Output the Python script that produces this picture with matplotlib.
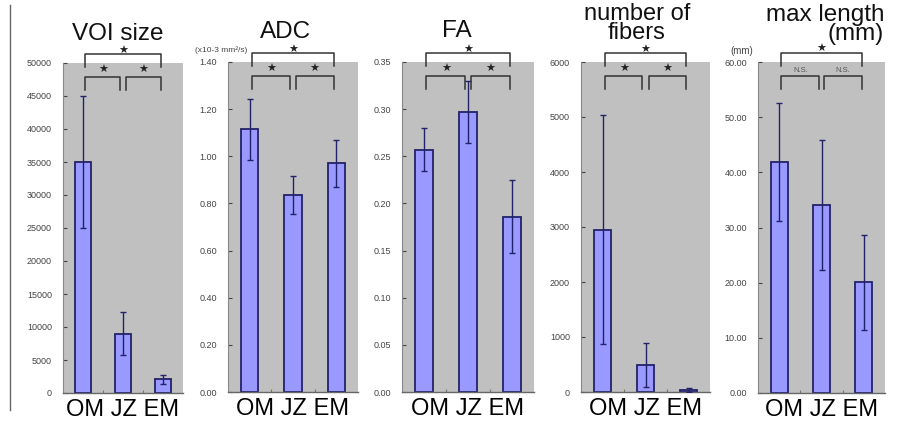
import matplotlib
matplotlib.use("Agg")
import matplotlib.pyplot as plt
from matplotlib.lines import Line2D
from matplotlib.ticker import MultipleLocator, FormatStrFormatter

plt.rcParams['font.family'] = ['Liberation Sans', 'DejaVu Sans']

categories = ["OM", "JZ", "EM"]

voi_mean = [35000, 9000, 2050]
voi_err = [10000, 3300, 700]
adc_mean = [1.115, 0.835, 0.970]
adc_err = [0.130, 0.080, 0.100]
fa_mean = [0.257, 0.297, 0.186]
fa_err = [0.023, 0.033, 0.039]
fib_mean = [2950, 490, 35]
fib_err = [2080, 400, 30]
len_mean = [41.9, 34.1, 20.1]
len_err = [10.7, 11.8, 8.6]

W, H = 898, 421
fig = plt.figure(figsize=(W / 100, H / 100), dpi=100)

BAR = '#9999FF'
EDGE = '#22226A'
BG = '#C0C0C0'

panels = [
    dict(mean=voi_mean, err=voi_err, ymax=50000, step=5000, fmt='%d',
         box=(63, 183, 63, 393), sig=['★', '★', '★']),
    dict(mean=adc_mean, err=adc_err, ymax=1.40, step=0.20, fmt='%.2f',
         box=(228, 358, 62, 392), sig=['★', '★', '★']),
    dict(mean=fa_mean, err=fa_err, ymax=0.35, step=0.05, fmt='%.2f',
         box=(402, 534, 62, 392), sig=['★', '★', '★']),
    dict(mean=fib_mean, err=fib_err, ymax=6000, step=1000, fmt='%d',
         box=(581, 710, 62, 392), sig=['★', '★', '★']),
    dict(mean=len_mean, err=len_err, ymax=60.0, step=10.0, fmt='%.2f',
         box=(758, 885, 62, 393), sig=['★', 'N.S.', 'N.S.']),
]

x = list(range(len(categories)))

for p in panels:
    l, r, t, b = p['box']
    ax = fig.add_axes([l / W, 1 - b / H, (r - l) / W, (b - t) / H])
    ax.set_facecolor(BG)
    ax.bar(x, p['mean'], width=0.40, color=BAR, edgecolor=EDGE, linewidth=1.3, zorder=2)
    ax.errorbar(x, p['mean'], yerr=p['err'], fmt='none', ecolor=EDGE,
                elinewidth=1.0, capsize=2.5, capthick=1.0, zorder=3)
    ax.set_xlim(-0.5, 2.5)
    ax.set_ylim(0, p['ymax'])
    ax.yaxis.set_major_locator(MultipleLocator(p['step']))
    ax.yaxis.set_major_formatter(FormatStrFormatter(p['fmt']))
    ax.tick_params(axis='y', direction='in', length=3, pad=8, labelsize=6.5,
                   colors='#444444', width=0.8)
    ax.set_xticks([0.5, 1.5])
    ax.set_xticklabels([])
    ax.tick_params(axis='x', direction='in', length=2, color='#777777')
    for s in ['top', 'right']:
        ax.spines[s].set_visible(False)
    ax.spines['left'].set_color('#888888')
    ax.spines['bottom'].set_color('#666666')
    ax.spines['bottom'].set_linewidth(1.0)
    ax.set_xlabel(" ".join(categories), fontsize=17, labelpad=1)

    # significance brackets
    tr = ax.get_xaxis_transform()
    kw = dict(transform=tr, clip_on=False, color='#333333', lw=1.1)
    g = 0.07
    ax.plot([0.05, 0.05, 1.95, 1.95], [0.988, 1.028, 1.028, 0.988], **kw)
    ax.plot([0.05, 0.05, 1 - g, 1 - g], [0.918, 0.958, 0.958, 0.918], **kw)
    ax.plot([1 + g, 1 + g, 1.95, 1.95], [0.918, 0.958, 0.958, 0.918], **kw)
    star_kw = dict(transform=tr, ha='center', va='center', clip_on=False,
                   family=['DejaVu Sans'], color='#222222')
    ax.text(1.0, 1.038, p['sig'][0], fontsize=8, **star_kw)
    for xc, s in zip([0.5, 1.5], p['sig'][1:]):
        if s == 'N.S.':
            ax.text(xc, 0.975, s, fontsize=5.5, transform=tr, ha='center',
                    va='center', color='#555555', clip_on=False)
        else:
            ax.text(xc, 0.980, s, fontsize=8, **star_kw)

# titles
def ftext(px, py, s, size, ha='center', **kw):
    fig.text(px / W, 1 - py / H, s, fontsize=size, ha=ha, va='baseline',
             color='#111111', **kw)

ftext(118, 40, "VOI size", 17.5)
ftext(286, 38, "ADC", 17.5)
ftext(457, 37, "FA", 17.5)
ftext(637, 39, "number of\nfibers", 17, linespacing=0.82)
ftext(884, 40, "max length\n(mm)", 17.5, ha='right', linespacing=0.82,
      multialignment='right')

# unit labels
fig.text(195 / W, 1 - 52 / H, "(x10-3 mm²/s)", fontsize=6, color='#444444',
         ha='left', va='baseline')
fig.text(730 / W, 1 - 54 / H, "(mm)", fontsize=7, color='#444444',
         ha='left', va='baseline')

# left border line
fig.add_artist(Line2D([10 / W, 10 / W], [1 - 5 / H, 1 - 410 / H],
                      transform=fig.transFigure, color='#666666', lw=1.0))

fig.savefig("out.png", dpi=100)
